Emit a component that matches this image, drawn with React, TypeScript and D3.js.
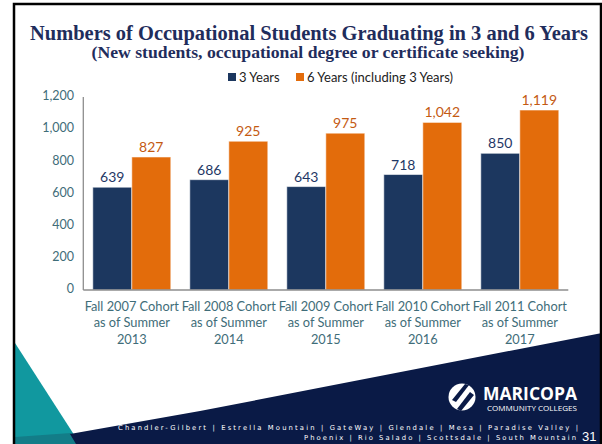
import React from "react";
import * as d3 from "d3";

const categories = [
  "Fall 2007 Cohort\nas of Summer\n2013",
  "Fall 2008 Cohort\nas of Summer\n2014",
  "Fall 2009 Cohort\nas of Summer\n2015",
  "Fall 2010 Cohort\nas of Summer\n2016",
  "Fall 2011 Cohort\nas of Summer\n2017",
];
const seriesNames = ["3 Years", "6 Years (including 3 Years)"];
const threeYears = [639, 686, 643, 718, 850];
const sixYears = [827, 925, 975, 1042, 1119];
const yTicks = [0, 200, 400, 600, 800, 1000, 1200];

const W = 602;
const H = 444;
const NAVY = "#1c375f";
const ORANGE = "#e36c0b";
const AXIS_TXT = "#3f6d79";
const FOOT = "#0a1a46";
const SANS = "Lato, 'Open Sans', sans-serif";
const SERIF = "'Liberation Serif', 'DejaVu Serif', serif";

export default function App() {
  const x = d3
    .scaleBand<string>()
    .domain(categories)
    .range([83.3, 568.3])
    .paddingInner(19 / 97)
    .paddingOuter(9.5 / 97);
  const inner = d3
    .scaleBand<string>()
    .domain(seriesNames)
    .range([0, x.bandwidth()])
    .padding(0);
  const y = d3.scaleLinear().domain([0, 1200]).range([290, 97]);
  const fmt = d3.format(",");
  const series = [
    { name: seriesNames[0], values: threeYears, color: NAVY, label: "#1f3866" },
    { name: seriesNames[1], values: sixYears, color: ORANGE, label: "#c45a12" },
  ];

  return (
    <svg
      width={W}
      height={H}
      style={{ position: "absolute", left: 0, top: 0, background: "#fff" }}
    >
      {/* footer decoration */}
      <polygon points="15,343 15,444 80,444" fill="#11989f" />
      <polygon points="15,437 71,433 78,444 15,444" fill="#137d88" />
      <polygon points="70,434 200,411 602,333 602,444 76,444" fill={FOOT} />

      {/* frame */}
      <rect x={14} y={4} width={587} height={452} fill="none" stroke="#000" strokeWidth={2.5} />

      {/* title */}
      <text
        x={309}
        y={40}
        textAnchor="middle"
        fontFamily={SERIF}
        fontWeight="bold"
        fontSize={20.5}
        fill="#1f2d5c"
        textLength={558}
        lengthAdjust="spacingAndGlyphs"
      >
        Numbers of Occupational Students Graduating in 3 and 6 Years
      </text>
      <text
        x={308}
        y={58}
        textAnchor="middle"
        fontFamily={SERIF}
        fontWeight="bold"
        fontSize={16.5}
        fill="#1f2d5c"
        textLength={433}
        lengthAdjust="spacingAndGlyphs"
      >
        (New students, occupational degree or certificate seeking)
      </text>

      {/* legend */}
      <g fontFamily={SANS} fontSize={13} fill="#222">
        <rect x={228} y={73} width={8} height={8} fill={NAVY} />
        <text x={239} y={81.5}>{seriesNames[0]}</text>
        <rect x={296} y={73} width={8} height={8} fill={ORANGE} />
        <text x={307} y={81.5}>{seriesNames[1]}</text>
      </g>

      {/* y axis labels */}
      <g fontFamily={SANS} fontSize={12.5} fill={AXIS_TXT}>
        {yTicks.map((t) => (
          <text key={t} x={74} y={y(t)} textAnchor="end" dominantBaseline="middle">
            {fmt(t)}
          </text>
        ))}
      </g>

      {/* bars */}
      {categories.map((c, i) => (
        <g key={c} transform={`translate(${x(c)},0)`}>
          {series.map((s) => (
            <g key={s.name}>
              <rect
                x={inner(s.name)}
                y={y(s.values[i])}
                width={inner.bandwidth()}
                height={y(0) - y(s.values[i])}
                fill={s.color}
                stroke="rgba(255,255,255,0.55)"
                strokeWidth={1}
              />
              <text
                x={(inner(s.name) as number) + inner.bandwidth() / 2}
                y={y(s.values[i]) - 5}
                textAnchor="middle"
                fontFamily={SANS}
                fontSize={14}
                fill={s.label}
              >
                {fmt(s.values[i])}
              </text>
            </g>
          ))}
        </g>
      ))}

      {/* axes lines */}
      <line x1={83.3} x2={83.3} y1={y(1200)} y2={y(0)} stroke="#8e8e8e" strokeWidth={1.3} />
      <line x1={83.3} x2={568.3} y1={y(0)} y2={y(0)} stroke="#8e8e8e" strokeWidth={1.5} />

      {/* category labels */}
      <g fontFamily={SANS} fontSize={12.8} fill={AXIS_TXT}>
        {categories.map((c) => (
          <text key={c} textAnchor="middle">
            {c.split("\n").map((line, j) => (
              <tspan key={j} x={(x(c) as number) + x.bandwidth() / 2} y={311 + j * 16.3}>
                {line}
              </tspan>
            ))}
          </text>
        ))}
      </g>

      {/* logo */}
      <g>
        <circle cx={462} cy={397} r={13.5} fill="#fff" />
        <path d="M452,400 L465,384 L469,385 L456,402 Z" fill={FOOT} />
        <path d="M457,409 L470,392 L474,395 L461,411 Z" fill={FOOT} />
        <text
          x={483}
          y={399.5}
          fontFamily="'Open Sans', sans-serif"
          fontWeight="bold"
          fontSize={18}
          fill="#fff"
          textLength={94}
          lengthAdjust="spacingAndGlyphs"
        >
          MARICOPA
        </text>
        <text
          x={487}
          y={410.5}
          fontFamily="'Open Sans', sans-serif"
          fontSize={7}
          fill="#fff"
          textLength={90}
          lengthAdjust="spacingAndGlyphs"
        >
          COMMUNITY COLLEGES
        </text>
      </g>

      {/* footer text */}
      <g fontFamily="'DejaVu Sans', sans-serif" fontSize={6.8} fill="#fff">
        <text x={118} y={429.5} textLength={460} lengthAdjust="spacing">
          Chandler-Gilbert | Estrella Mountain | GateWay | Glendale | Mesa | Paradise Valley |
        </text>
        <text x={304} y={439.5} textLength={272} lengthAdjust="spacing">
          Phoenix | Rio Salado | Scottsdale | South Mountain
        </text>
      </g>
      <text x={582} y={441} fontFamily="'Liberation Sans', sans-serif" fontSize={13} fill="#fff">
        31
      </text>
    </svg>
  );
}
